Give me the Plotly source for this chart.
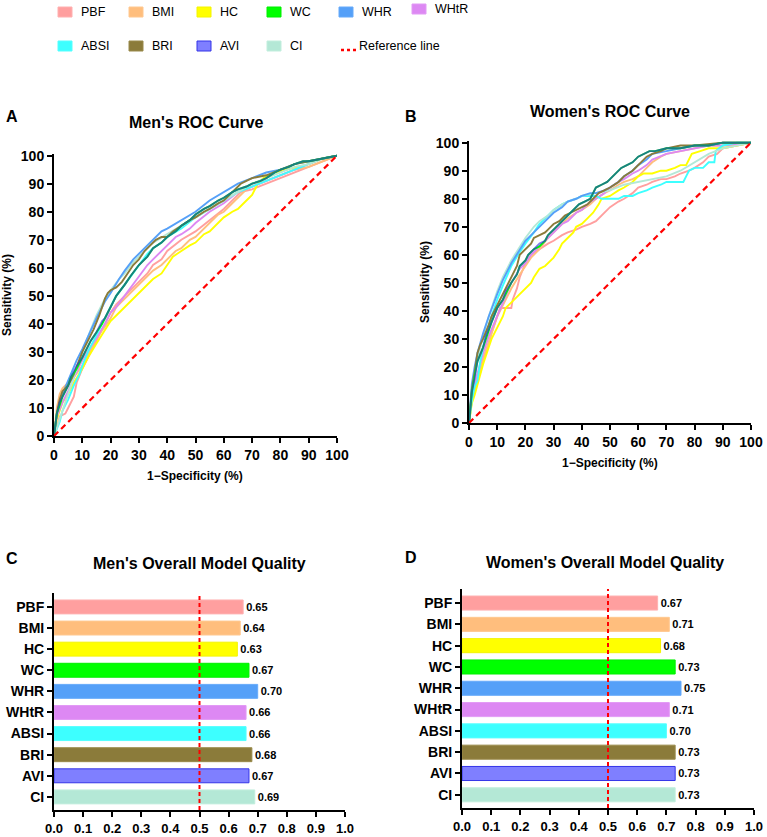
import plotly.graph_objects as go

W, H = 767, 837
FONT = "Arial, Liberation Sans, sans-serif"
NARROW = "Liberation Sans Narrow, Arial Narrow, Liberation Sans, Arial, sans-serif"

markers = ["PBF", "BMI", "HC", "WC", "WHR", "WHtR", "ABSI", "BRI", "AVI", "CI"]
fill_colors = ["#FF9F9F", "#FFBE7D", "#FFFF00", "#00FF00", "#55A0F8",
               "#DD88F3", "#3DFFFF", "#8B7B3A", "#7F7FFF", "#B4E8D6"]
line_colors = ["#FF9F9F", "#FFBE7D", "#FFFF00", "#00FF00", "#55A0F8",
               "#DD88F3", "#3DFFFF", "#8B7B3A", "rgba(40,40,215,0.6)", "#B4E8D6"]
edge_colors = ["#FFB0B0", "#FFC890", "#F4F400", "#00EE00", "#66AAFA",
               "#E29AF5", "#55FFFF", "#998A4A", "#3535E8", "#C2EEDD"]

men_auc = [0.65, 0.64, 0.63, 0.67, 0.70, 0.66, 0.66, 0.68, 0.67, 0.69]
women_auc = [0.67, 0.71, 0.68, 0.73, 0.75, 0.71, 0.70, 0.73, 0.73, 0.73]

ref_x = [0, 100]
ref_y = [0, 100]

# ROC points: (1-specificity %, sensitivity %)
men_pbf = [(0, 0), (1, 3), (2, 7), (4, 8), (5, 10), (7, 14), (8, 19), (10, 24), (12, 28), (15, 34), (18, 40),
           (20, 44), (22, 47), (25, 50), (28, 53), (30, 55), (33, 58), (35, 61), (38, 63), (40, 66), (45, 70),
           (50, 73), (55, 77), (60, 81), (63, 84), (66, 87), (70, 88), (75, 90), (80, 92), (85, 94), (90, 96),
           (95, 98), (100, 100)]
men_bmi = [(0, 0), (1, 10), (2, 15), (3, 17), (5, 19), (7, 21), (10, 25), (12, 29), (15, 35), (18, 39), (20, 42),
           (22, 46), (25, 49), (27, 51), (30, 54), (33, 57), (35, 59), (38, 61), (40, 63), (43, 66), (45, 67),
           (48, 70), (50, 71), (53, 74), (55, 76), (58, 79), (60, 80), (63, 83), (65, 85), (68, 88), (70, 89),
           (75, 91), (80, 93), (85, 95), (90, 96), (95, 98), (100, 100)]
men_hc = [(0, 0), (1, 6), (2, 9), (3, 12), (5, 15), (7, 19), (10, 24), (12, 28), (15, 33), (18, 38), (20, 41),
          (22, 43), (25, 46), (28, 49), (30, 51), (32, 53), (35, 56), (38, 58), (40, 61), (42, 64), (45, 66),
          (48, 68), (50, 69), (53, 72), (55, 73), (58, 76), (60, 78), (63, 80), (65, 81), (68, 84), (70, 86),
          (72, 90), (74, 92), (78, 94), (82, 95), (86, 96), (90, 97), (95, 99), (100, 100)]
men_wc = [(0, 0), (1, 8), (2, 11), (3, 14), (5, 18), (6, 21), (8, 24), (10, 28), (12, 32), (13, 34), (15, 37),
          (17, 40), (18, 42), (20, 46), (22, 50), (25, 54), (27, 57), (30, 61), (33, 64), (35, 67), (38, 69),
          (40, 71), (43, 73), (45, 75), (48, 77), (50, 79), (53, 81), (55, 82), (58, 84), (60, 85), (63, 87),
          (65, 88), (68, 89), (70, 90), (73, 91), (75, 92), (78, 94), (80, 95), (83, 96), (85, 97), (88, 98),
          (90, 98), (95, 99), (100, 100)]
men_whr = [(0, 0), (1, 8), (3, 15), (5, 20), (8, 27), (10, 31), (13, 38), (15, 42), (18, 48), (20, 51), (23, 56),
           (25, 59), (28, 63), (30, 65), (33, 68), (35, 70), (38, 73), (40, 74), (45, 77), (50, 80), (55, 84),
           (60, 87), (65, 90), (70, 92), (75, 94), (80, 95), (85, 97), (90, 98), (95, 99), (100, 100)]
men_whtr = [(0, 0), (1, 7), (3, 12), (5, 16), (8, 23), (10, 27), (13, 32), (15, 35), (18, 40), (20, 44), (22, 46),
            (25, 50), (28, 54), (30, 57), (33, 61), (35, 63), (38, 66), (40, 68), (43, 71), (45, 72), (48, 74),
            (50, 76), (55, 80), (60, 83), (65, 87), (70, 89), (75, 91), (80, 93), (85, 95), (90, 97), (95, 99),
            (100, 100)]
men_absi = [(0, 0), (2, 5), (3, 9), (5, 13), (7, 18), (9, 22), (10, 25), (12, 30), (15, 36), (18, 42), (20, 46),
            (22, 50), (25, 54), (28, 58), (30, 61), (33, 65), (35, 67), (38, 69), (40, 71), (45, 74), (50, 78),
            (55, 81), (60, 84), (65, 87), (70, 89), (75, 91), (80, 93), (85, 95), (90, 97), (95, 99), (100, 100)]
men_bri = [(0, 0), (1, 8), (2, 13), (3, 16), (5, 18), (7, 22), (10, 30), (12, 34), (14, 38), (16, 43), (17, 46),
           (18, 49), (19, 51), (20, 52), (22, 53), (24, 55), (26, 58), (28, 61), (30, 63), (32, 66), (34, 68),
           (36, 70), (38, 71), (40, 71), (42, 73), (45, 75), (48, 77), (50, 78), (53, 80), (55, 81), (58, 83),
           (60, 84), (62, 86), (64, 88), (66, 90), (68, 91), (70, 92), (75, 93), (80, 95), (85, 97), (90, 98),
           (95, 99), (100, 100)]
men_avi = [(0, 0), (1, 8), (2, 12), (3, 14), (5, 18), (6, 21), (8, 25), (10, 28), (12, 32), (13, 34), (15, 37),
           (17, 41), (18, 42), (20, 46), (22, 50), (25, 54), (27, 57), (30, 61), (33, 64), (35, 67), (38, 69),
           (40, 71), (43, 73), (45, 75), (48, 77), (50, 79), (53, 81), (55, 82), (58, 84), (60, 85), (63, 87),
           (65, 88), (68, 89), (70, 90), (73, 91), (75, 92), (78, 94), (80, 95), (83, 96), (85, 97), (88, 98),
           (90, 98), (95, 99), (100, 100)]
men_ci = [(0, 0), (2, 6), (3, 9), (5, 15), (7, 21), (10, 30), (13, 38), (15, 43), (18, 49), (20, 52), (23, 56),
          (25, 58), (28, 62), (30, 64), (35, 69), (40, 72), (45, 75), (50, 78), (55, 81), (60, 84), (65, 87),
          (70, 90), (75, 92), (80, 94), (85, 96), (90, 97), (95, 99), (100, 100)]

women_pbf = [(0, 0), (1, 8), (2, 12), (4, 18), (5, 22), (7, 28), (8, 32), (10, 38), (11, 41), (13, 41), (15, 41),
             (15.5, 44), (17, 48), (18, 52), (20, 57), (22, 60), (25, 62), (28, 64), (30, 65), (33, 67), (35, 68),
             (38, 69), (40, 70), (43, 71), (45, 72), (47, 74), (50, 77), (53, 79), (55, 80), (58, 82), (60, 84),
             (63, 85), (65, 86), (68, 87), (70, 87), (73, 88), (75, 89), (78, 90), (80, 91), (83, 93), (85, 95),
             (88, 96), (90, 98), (95, 99), (100, 100)]
women_bmi = [(0, 0), (1, 8), (2, 12), (4, 19), (5, 23), (7, 29), (8, 32), (10, 38), (12, 42), (15, 48), (18, 53),
             (20, 56), (22, 59), (25, 62), (28, 66), (30, 68), (33, 71), (35, 73), (38, 75), (40, 76), (43, 78),
             (45, 80), (48, 82), (50, 83), (53, 85), (55, 86), (58, 87), (60, 88), (63, 91), (65, 93), (68, 95),
             (70, 96), (75, 97), (80, 98), (85, 99), (90, 99), (100, 100)]
women_hc = [(0, 0), (1, 7), (2, 10), (3, 14), (4, 17), (5, 21), (7, 27), (8, 30), (10, 34), (12, 38), (13, 41),
            (15, 43), (17, 45), (18, 46), (20, 48), (22, 50), (23, 52), (25, 55), (27, 56), (28, 57), (30, 59),
            (32, 62), (33, 64), (35, 66), (37, 68), (38, 70), (40, 71), (42, 73), (44, 75), (46, 78), (47, 80),
            (50, 81), (53, 83), (55, 84), (58, 86), (60, 88), (62, 89), (65, 89), (68, 90), (70, 90), (73, 91),
            (75, 92), (77, 92), (78, 94), (79, 96), (82, 97), (85, 98), (90, 98), (95, 99), (100, 100)]
women_wc = [(0, 0), (1, 11), (2, 17), (3, 22), (5, 27), (6, 30), (8, 36), (10, 41), (12, 44), (13, 46), (15, 50),
            (17, 53), (18, 56), (20, 58), (21, 60), (23, 62), (25, 63), (27, 65), (28, 67), (30, 69), (32, 71),
            (33, 72), (35, 74), (37, 76), (39, 78), (41, 79), (43, 80), (44, 82), (45, 84), (47, 85), (49, 86),
            (50, 87), (52, 89), (54, 91), (56, 92), (58, 93), (60, 95), (62, 96), (64, 97), (66, 97), (70, 98),
            (75, 98), (80, 99), (85, 99), (90, 100), (100, 100)]
women_whr = [(0, 0), (1, 14), (2, 20), (3, 25), (5, 32), (7, 38), (10, 46), (12, 51), (15, 57), (18, 62), (20, 65),
             (23, 68), (25, 70), (28, 73), (30, 75), (33, 77), (35, 79), (38, 80), (40, 81), (43, 82), (45, 82),
             (48, 83), (50, 84), (53, 86), (55, 88), (58, 90), (60, 92), (63, 94), (65, 96), (70, 97), (75, 98),
             (80, 99), (85, 99), (90, 100), (100, 100)]
women_whtr = [(0, 0), (1, 10), (2, 14), (4, 21), (5, 25), (7, 31), (10, 38), (12, 43), (15, 50), (18, 55), (20, 57),
              (22, 60), (25, 63), (28, 66), (30, 68), (33, 71), (35, 72), (38, 75), (40, 76), (43, 79), (45, 80),
              (48, 82), (50, 84), (53, 86), (55, 87), (58, 89), (60, 90), (63, 92), (65, 94), (70, 96), (75, 97),
              (80, 98), (85, 99), (90, 99), (100, 100)]
women_absi = [(0, 0), (1, 8), (2, 13), (3, 15), (4, 22), (5, 27), (7, 35), (10, 44), (12, 49), (15, 56), (18, 61),
              (20, 64), (23, 68), (25, 71), (28, 74), (30, 76), (33, 78), (35, 79), (38, 80), (40, 81), (42, 81),
              (45, 81), (47, 80), (50, 80), (53, 80), (55, 81), (58, 81), (60, 82), (63, 83), (65, 84), (68, 85),
              (70, 86), (73, 86), (76, 86), (77, 88), (78, 90), (80, 91), (83, 91), (85, 93), (87, 93),
              (87.5, 97), (90, 99), (95, 100), (100, 100)]
women_bri = [(0, 0), (1, 12), (2, 18), (3, 25), (4, 28), (5, 30), (7, 35), (8, 38), (10, 42), (12, 46), (14, 50),
             (15, 52), (17, 56), (18, 60), (20, 62), (22, 64), (23, 66), (25, 67), (27, 68), (28, 69), (30, 71),
             (32, 72), (34, 74), (36, 75), (38, 76), (40, 77), (42, 78), (44, 80), (46, 82), (48, 83), (50, 84),
             (53, 86), (55, 88), (58, 90), (60, 92), (63, 95), (65, 96), (68, 97), (70, 98), (75, 99), (80, 99),
             (90, 100), (100, 100)]
women_avi = [(0, 0), (1, 11), (2, 16), (3, 22), (5, 27), (6, 31), (8, 36), (10, 41), (12, 44), (13, 47), (15, 50),
             (17, 53), (18, 56), (20, 58), (21, 60), (23, 62), (25, 64), (27, 65), (28, 67), (30, 69), (32, 71),
             (33, 72), (35, 74), (37, 76), (39, 78), (41, 79), (43, 80), (44, 82), (45, 84), (47, 85), (49, 86),
             (50, 87), (52, 89), (54, 91), (56, 92), (58, 93), (60, 95), (62, 96), (64, 97), (66, 97), (70, 98),
             (75, 98), (80, 99), (85, 99), (90, 100), (100, 100)]
women_ci = [(0, 0), (1, 12), (2, 18), (3, 23), (5, 31), (7, 38), (10, 47), (12, 52), (15, 58), (18, 63), (20, 66),
            (23, 70), (25, 72), (28, 74), (30, 76), (33, 78), (35, 79), (38, 80), (40, 81), (45, 82), (50, 83),
            (55, 85), (60, 86), (65, 87), (70, 88), (75, 90), (80, 93), (85, 96), (90, 98), (95, 99), (100, 100)]

men_roc = [men_pbf, men_bmi, men_hc, men_wc, men_whr, men_whtr, men_absi, men_bri, men_avi, men_ci]
women_roc = [women_pbf, women_bmi, women_hc, women_wc, women_whr, women_whtr, women_absi, women_bri, women_avi,
             women_ci]

# drawing order so that the curves stack like the original
draw_order = ["PBF", "BMI", "HC", "WHtR", "ABSI", "CI", "WHR", "BRI", "WC", "AVI"]


def px(x):
    return x / W


def py(y):
    return 1 - y / H


fig = go.Figure()

for roc, xa, ya in [(men_roc, "x", "y"), (women_roc, "x2", "y2")]:
    for name in draw_order:
        i = markers.index(name)
        pts = roc[i]
        fig.add_trace(go.Scatter(
            x=[p[0] for p in pts], y=[p[1] for p in pts], mode="lines", name=name,
            line=dict(color=line_colors[i], width=1.9), xaxis=xa, yaxis=ya, showlegend=False))
    fig.add_trace(go.Scatter(
        x=ref_x, y=ref_y, mode="lines", name="Reference line",
        line=dict(color="#FF0000", width=2.2, dash="6px,4px"), xaxis=xa, yaxis=ya, showlegend=False))

for auc, xa, ya in [(men_auc, "x3", "y3"), (women_auc, "x4", "y4")]:
    fig.add_trace(go.Bar(
        x=auc, y=markers, orientation="h", width=0.66,
        marker=dict(color=fill_colors, line=dict(color=edge_colors, width=1)),
        text=[f"{v:.2f}" for v in auc], textposition="outside", cliponaxis=False,
        textfont=dict(family=FONT, size=11, color="black", weight="bold"),
        xaxis=xa, yaxis=ya, showlegend=False))

axis_common = dict(showline=True, linecolor="black", linewidth=2, ticks="outside", ticklen=5,
                   tickwidth=2, tickcolor="black", showgrid=False, zeroline=False, mirror=False,
                   automargin=False,
                   tickfont=dict(family=FONT, size=14, color="black", weight="bold"))

roc_x = dict(axis_common, range=[0, 100], tickvals=list(range(0, 101, 10)))
roc_y = dict(axis_common, range=[0, 100.6], tickvals=list(range(0, 101, 10)))
bar_font = dict(family=FONT, size=13, color="black", weight="bold")

fig.update_layout(
    xaxis=dict(roc_x, domain=[px(54), px(337)], anchor="y"),
    yaxis=dict(roc_y, domain=[py(436), py(154)], anchor="x"),
    xaxis2=dict(roc_x, domain=[px(469), px(751)], anchor="y2"),
    yaxis2=dict(roc_y, domain=[py(423), py(141)], anchor="x2"),
    xaxis3=dict(axis_common, domain=[px(54), px(345)], anchor="y3", range=[0, 1], dtick=0.1,
                tickformat=".1f", tick0=0, tickfont=bar_font),
    yaxis3=dict(axis_common, domain=[py(810), py(593)], anchor="x3", type="category",
                categoryorder="array", categoryarray=markers, range=[9.62, -0.66]),
    xaxis4=dict(axis_common, domain=[px(462), px(754)], anchor="y4", range=[0, 1], dtick=0.1,
                tickformat=".1f", tick0=0, tickfont=bar_font),
    yaxis4=dict(axis_common, domain=[py(808), py(589)], anchor="x4", type="category",
                categoryorder="array", categoryarray=markers, range=[9.62, -0.66]),
    width=W, height=H, margin=dict(l=0, r=0, t=0, b=0, autoexpand=False),
    paper_bgcolor="white", plot_bgcolor="white", bargap=0.34,
    font=dict(family=FONT, color="black"),
)

# AUC = 0.5 reference on the bar panels
for xa, ya in [("x3", "y3"), ("x4", "y4")]:
    fig.add_shape(type="line", xref=xa, yref=f"{ya} domain", x0=0.5, x1=0.5, y0=0, y1=1,
                  line=dict(color="#FF0000", width=2, dash="4px,3px"), layer="above")

annotations = []


def label(text, x, y, size, bold=True, angle=0, family=FONT, xanchor="center"):
    annotations.append(dict(text=text, x=px(x), y=py(y), xref="paper", yref="paper", showarrow=False,
                            xanchor=xanchor, yanchor="middle", textangle=angle,
                            font=dict(family=family, size=size, color="black",
                                      weight="bold" if bold else "normal")))


label("Men's ROC Curve", 196, 123, 16)
label("Women's ROC Curve", 610, 111, 16)
label("Men's Overall Model Quality", 199, 563, 16)
label("Women's Overall Model Quality", 605, 562, 16)
label("A", 12, 117, 16)
label("B", 411, 116, 16)
label("C", 12, 558, 16)
label("D", 411, 557, 16)
label("1−Specificity (%)", 195, 476, 12)
label("1−Specificity (%)", 610, 463, 12)
label("Sensitivity (%)", 7, 295, 12, angle=-90)
label("Sensitivity (%)", 425, 282, 12, angle=-90)

# legend
legend_pos = {"PBF": (58, 12), "BMI": (129, 12), "HC": (197, 12), "WC": (267, 12), "WHR": (339, 12),
              "WHtR": (412, 9), "ABSI": (58, 46), "BRI": (129, 46), "AVI": (197, 46), "CI": (267, 46)}
for i, name in enumerate(markers):
    x0, yc = legend_pos[name]
    fig.add_shape(type="rect", xref="paper", yref="paper", x0=px(x0), x1=px(x0 + 14),
                  y0=py(yc + 5), y1=py(yc - 5), fillcolor=fill_colors[i],
                  line=dict(color=edge_colors[i], width=1))
    label(name, x0 + 21, yc, 12.5, bold=False, family=NARROW, xanchor="left")

fig.add_shape(type="line", xref="paper", yref="paper", x0=px(341), x1=px(356), y0=py(50), y1=py(50),
              line=dict(color="#FF0000", width=2.5, dash="dot"))
label("Reference line", 357, 46, 12.5, bold=False, family=NARROW, xanchor="left")

fig.update_layout(annotations=annotations)

# the page's default 8px body margin would push the figure off the window
fig.write_html("out.html", config={"displayModeBar": False},
               post_script="document.body.style.margin='0';document.body.style.overflow='hidden';")
